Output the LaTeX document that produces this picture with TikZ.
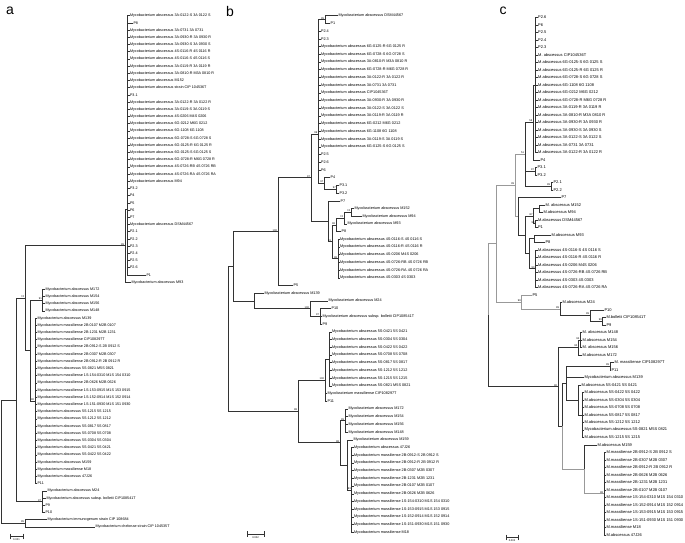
\documentclass[tikz,border=0pt]{standalone}
\usepackage{fontspec}
\setmainfont{Liberation Sans}
\newcommand{\Mab}{Mycobacterium abscessus}
\newcommand{\Mms}{Mycobacterium massiliense}
\tikzstyle{leaf} = [anchor=west, inner sep=0.3pt]
\tikzstyle{boot} = [anchor=south east, inner sep=0.2pt, font=\fontsize{2.6}{3}\selectfont]
\tikzstyle{branch} = [draw=black!80, line width=0.45pt]
\tikzstyle{greybranch} = [draw=black!40, line width=0.55pt]
\tikzstyle{panel} = [font=\fontsize{14}{14}\selectfont]
\tikzstyle{scalebar} = [draw=black!80, line width=0.4pt, |-|]

\begin{document}
\begin{tikzpicture}[x=1pt, y=-1pt]
\useasboundingbox (0,0) rectangle (685,543);

% ---------------- panel a ----------------
\node[panel] (pa) at (10,11) {a};
\begin{scope}[font=\fontsize{3.7}{4.2}\selectfont]
\foreach \i/\x/\t in {
 0/129.5/\Mab{} 3A-0122-S 3A 0122 S, 1/133/P8,
 2/129.5/\Mab{} 3A-0731 3A 0731, 3/129.5/\Mab{} 3A-0930-R 3A 0930 R,
 4/129.5/\Mab{} 3A-0930-S 3A 0930 S, 5/129.5/\Mab{} 4S-0116-R 4S 0116 R,
 6/129.5/\Mab{} 4S-0116-S 4S 0116 S, 7/129.5/\Mab{} 3A-0119-R 3A 0119 R,
 8/129.5/\Mab{} 3A-0810-R M3A 0810 R, 9/129.5/\Mab{} M152,
 10/129.5/\Mab{} strain CIP 104536T, 11/129.5/P3.1,
 12/129.5/\Mab{} 3A-0122-R 3A 0122 R, 13/129.5/\Mab{} 3A-0119-S 3A 0119 S,
 14/129.5/\Mab{} 4S-0206 M4S 0206, 15/129.5/\Mab{} 6G-0212 M6G 0212,
 16/129.5/\Mab{} 6G-1108 6G 1108, 17/129.5/\Mab{} 6G-0728-S 6G 0728 S,
 18/129.5/\Mab{} 6G-0125-R 6G 0125 R, 19/129.5/\Mab{} 6G-0125-S 6G 0125 S,
 20/129.5/\Mab{} 6G-0728-R M6G 0728 R, 21/129.5/\Mab{} 4S-0726-RB 4S 0726 RB,
 22/129.5/\Mab{} 4S-0726-RA 4S 0726 RA, 23/129.5/\Mab{} M94,
 24/129.5/P3.2, 25/129.5/P4, 26/129.5/P5, 27/129.5/P6, 28/129.5/P7,
 29/129.5/\Mab{} DSM44567, 30/129.5/P2.1, 31/129.5/P2.2, 32/129.5/P2.3,
 33/129.5/P2.4, 34/129.5/P2.5, 35/129.5/P2.6, 36/146/P1,
 37/131/\Mab{} M93,
 38/45/\Mab{} M172, 39/45/\Mab{} M154, 40/45/\Mab{} M156, 41/45/\Mab{} M148,
 42/37/\Mab{} M139, 43/37/\Mms{} 2B-0107 M2B 0107,
 44/37/\Mms{} 2B-1231 M2B 1231, 45/37/\Mms{} CIP108297T,
 46/37/\Mms{} 2B-0912-S 2B 0912 S, 47/37/\Mms{} 2B-0307 M2B 0307,
 48/37/\Mms{} 2B-0912-R 2B 0912 R, 49/37/\Mab{} 5S-0821 M5S 0821,
 50/37/\Mms{} 1S-154-0310 M1S 154 0310, 51/37/\Mms{} 2B-0626 M2B 0626,
 52/37/\Mms{} 1S-153-0915 M1S 153 0915, 53/37/\Mms{} 1S-152-0914 M1S 152 0914,
 54/37/\Mms{} 1S-151-0930 M1S 151 0930, 55/37/\Mab{} 5S-1215 5S 1215,
 56/37/\Mab{} 5S-1212 5S 1212, 57/37/\Mab{} 5S-0817 5S 0817,
 58/37/\Mab{} 5S-0708 5S 0708, 59/37/\Mab{} 5S-0304 5S 0304,
 60/37/\Mab{} 5S-0421 5S 0421, 61/37/\Mab{} 5S-0422 5S 0422,
 62/37/\Mab{} M159, 63/37/\Mms{} M18, 64/37/\Mab{} 47J26, 65/37/P11,
 66/47/\Mab{} M24, 67/46/\Mab{} subsp. bolletii CIP108541T,
 68/45/P9, 69/45/P10,
 70/47/Mycobacterium immunogenum strain CIP 108684,
 71/95/Mycobacterium chelonae strain CIP 104535T}
 \node[leaf] (a\i) at (\x,{15.7+7.2*\i}) {\t};
\end{scope}

\coordinate (aTop) at (127.7,209);
\coordinate (aAbs) at (125,245.5);
\coordinate (aM172) at (42.7,300.1);
\coordinate (aMas2) at (35,400.9);
\coordinate (aMas) at (30,350.5);
\coordinate (aIn) at (25,298);
\coordinate (aBol) at (42,501.7);
\coordinate (aIng) at (16.7,399.8);
\coordinate (aOut) at (25,523.3);
\coordinate (aRoot) at (1,461.5);

\draw[branch] (aRoot) |- (aIng);
\draw[branch] (aRoot) |- (aOut);
\draw[branch] (aIng) |- (aIn);
\draw[branch] (aIng) |- (aBol);
\draw[branch] (aIn) |- (aAbs);
\draw[branch] (aIn) |- (aMas);
\draw[branch] (aAbs) |- (aTop);
\draw[branch] (aAbs) |- (a37.west);
\foreach \i in {0,...,36} \draw[branch] (aTop) |- (a\i.west);
\draw[branch] (aMas) |- (aM172);
\draw[branch] (aMas) |- (aMas2);
\foreach \i in {38,...,41} \draw[branch] (aM172) |- (a\i.west);
\foreach \i in {42,...,65} \draw[branch] (aMas2) |- (a\i.west);
\foreach \i in {66,...,69} \draw[branch] (aBol) |- (a\i.west);
\draw[branch] (aOut) |- (a70.west);
\draw[branch] (aOut) |- (a71.west);

\node[boot] (ba1) at ([xshift=-0.6]aAbs) {99};
\node[boot] (ba2) at ([xshift=-0.6]aIn) {74};
\node[boot] (ba3) at ([xshift=-0.6]aM172) {91};
\node[boot] (ba4) at ([xshift=-0.6]aMas2) {90};
\node[boot] (ba5) at ([xshift=-0.6]aBol) {97};
\node[boot] (ba6) at ([xshift=-0.6]aOut) {95};

\coordinate (sbaL) at (10,536.5);
\coordinate (sbaR) at (23,536.5);
\draw[scalebar] (sbaL) -- (sbaR);
\node[font=\fontsize{2.6}{3}\selectfont, inner sep=0.3pt] (sba) at (16.5,540) {0.001};

% ---------------- panel b ----------------
\node[panel] (pb) at (230,11) {b};
\begin{scope}[font=\fontsize{3.8}{4.3}\selectfont]
\foreach \i/\x/\t in {
 0/338/\Mab{} DSM44567, 1/330/P1, 2/320.5/P2.4, 3/320.5/P2.3,
 4/320.5/\Mab{} 6G-0125-R 6G 0125 R, 5/320.5/\Mab{} 6G-0728-S 6G 0728 S,
 6/320.5/\Mab{} 3A-0810-R M3A 0810 R, 7/320.5/\Mab{} 6G-0728-R M6G 0728 R,
 8/320.5/\Mab{} 3A-0122-R 3A 0122 R, 9/320.5/\Mab{} 3A-0731 3A 0731,
 10/320.5/\Mab{} CIP104536T, 11/320.5/\Mab{} 3A-0930-R 3A 0930 R,
 12/320.5/\Mab{} 3A-0122-S 3A 0122 S, 13/320.5/\Mab{} 3A-0119-R 3A 0119 R,
 14/320.5/\Mab{} 6G-0212 M6G 0212, 15/320.5/\Mab{} 6G-1108 6G 1108,
 16/320.5/\Mab{} 3A-0119-S 3A 0119 S, 17/320.5/\Mab{} 6G-0125-S 6G 0125 S,
 18/320.5/P2.5, 19/320.5/P2.6, 20/320.5/P6, 21/330/P4,
 22/339/P3.1, 23/339/P3.2, 24/340/P7,
 25/354/\Mab{} M152, 26/362/\Mab{} M94, 27/347/\Mab{} M93, 28/341/P8,
 29/339.5/\Mab{} 4S-0116-S 4S 0116 S, 30/339.5/\Mab{} 4S-0116-R 4S 0116 R,
 31/339.5/\Mab{} 4S-0206 M4S 0206, 32/339.5/\Mab{} 4S-0726-RB 4S 0726 RB,
 33/339.5/\Mab{} 4S-0726-RA 4S 0726 RA, 34/339.5/\Mab{} 4S-0303 4S 0303,
 35/293/P5, 36/264/\Mab{} M139, 37/328/\Mab{} M24, 38/331/P10,
 39/322/\Mab{} subsp. bolletii CIP108541T, 40/322/P9,
 41/331.5/\Mab{} 5S-0421 5S 0421, 42/331.5/\Mab{} 5S-0304 5S 0304,
 43/331.5/\Mab{} 5S-0422 5S 0422, 44/331.5/\Mab{} 5S-0708 5S 0708,
 45/331.5/\Mab{} 5S-0817 5S 0817, 46/331.5/\Mab{} 5S-1212 5S 1212,
 47/331.5/\Mab{} 5S-1215 5S 1215, 48/331.5/\Mab{} 5S-0821 M5S 0821,
 49/327/\Mms{} CIP108297T, 50/327/P11,
 51/348/\Mab{} M172, 52/348/\Mab{} M154, 53/348/\Mab{} M156, 54/348/\Mab{} M148,
 55/353/\Mab{} M159, 56/353.5/\Mab{} 47J26,
 57/353.5/\Mms{} 2B-0912-S 2B 0912 S, 58/353.5/\Mms{} 2B-0912-R 2B 0912 R,
 59/353.5/\Mms{} 2B-0307 M2B 0307, 60/353.5/\Mms{} 2B-1231 M2B 1231,
 61/353.5/\Mms{} 2B-0107 M2B 0107, 62/353.5/\Mms{} 2B-0626 M2B 0626,
 63/353.5/\Mms{} 1S-154-0310 M1S 154 0310, 64/353.5/\Mms{} 1S-153-0915 M1S 153 0915,
 65/353.5/\Mms{} 1S-152-0914 M1S 152 0914, 66/353.5/\Mms{} 1S-151-0930 M1S 151 0930,
 67/353.5/\Mms{} M18}
 \node[leaf] (b\i) at (\x,{15.7+7.71*\i}) {\t};
\end{scope}

\coordinate (bDSM) at (325,19.6);
\coordinate (bP3) at (336.7,189.2);
\coordinate (bP4) at (324.3,183.4);
\coordinate (bTop) at (318.3,134);
\coordinate (nSeventyA) at (351,212.3);
\coordinate (nSeventyB) at (344,218.1);
\coordinate (nNinetySix) at (336,224.9);
\coordinate (nNinetyEight) at (338,258.6);
\coordinate (nNinetyOne) at (332,241.7);
\coordinate (bC) at (328,221.2);
\coordinate (bB2) at (311,177.6);
\coordinate (bB3) at (278,231.6);
\coordinate (bBol) at (320,316.4);
\coordinate (bM24) at (310,308.7);
\coordinate (bM139) at (254,301);
\coordinate (bB1) at (233,266.3);
\coordinate (b5S) at (329.5,358.8);
\coordinate (b100) at (325,380);
\coordinate (bM172) at (345,420.5);
\coordinate (bMas2) at (351.7,489.9);
\coordinate (bM159) at (347,464.9);
\coordinate (bM) at (340,442.7);
\coordinate (bLow) at (298,411.4);
\coordinate (bRoot) at (228,338.9);

\draw[branch] (bRoot) |- (bB1);
\draw[branch] (bRoot) |- (bLow);
\draw[branch] (bB1) |- (bB3);
\draw[branch] (bB1) |- (bM139);
\draw[branch] (bB3) |- (bB2);
\draw[branch] (bB3) |- (b35.west);
\draw[branch] (bB2) |- (bTop);
\draw[branch] (bB2) |- (bC);
\draw[branch] (bTop) |- (bDSM);
\draw[branch] (bTop) |- (bP4);
\foreach \i in {2,...,20} \draw[branch] (bTop) |- (b\i.west);
\draw[branch] (bDSM) |- (b0.west);
\draw[branch] (bDSM) |- (b1.west);
\draw[branch] (bP4) |- (b21.west);
\draw[branch] (bP4) |- (bP3);
\draw[branch] (bP3) |- (b22.west);
\draw[branch] (bP3) |- (b23.west);
\draw[branch] (bC) |- (b24.west);
\draw[branch] (bC) |- (nNinetyOne);
\draw[branch] (nNinetyOne) |- (nNinetySix);
\draw[branch] (nNinetyOne) |- (nNinetyEight);
\draw[branch] (nNinetySix) |- (nSeventyB);
\draw[branch] (nNinetySix) |- (b28.west);
\draw[branch] (nSeventyB) |- (nSeventyA);
\draw[branch] (nSeventyB) |- (b27.west);
\draw[branch] (nSeventyA) |- (b25.west);
\draw[branch] (nSeventyA) |- (b26.west);
\foreach \i in {29,...,34} \draw[branch] (nNinetyEight) |- (b\i.west);
\draw[branch] (bM139) |- (b36.west);
\draw[branch] (bM139) |- (bM24);
\draw[branch] (bM24) |- (b37.west);
\draw[branch] (bM24) |- (bBol);
\foreach \i in {38,39,40} \draw[branch] (bBol) |- (b\i.west);
\draw[branch] (bLow) |- (b100);
\draw[branch] (bLow) |- (bM);
\draw[branch] (b100) |- (b5S);
\draw[branch] (b100) |- (b49.west);
\draw[branch] (b100) |- (b50.west);
\foreach \i in {41,...,48} \draw[branch] (b5S) |- (b\i.west);
\draw[branch] (bM) |- (bM172);
\draw[branch] (bM) |- (bM159);
\foreach \i in {51,...,54} \draw[branch] (bM172) |- (b\i.west);
\draw[branch] (bM159) |- (b55.west);
\draw[branch] (bM159) |- (bMas2);
\foreach \i in {56,...,67} \draw[branch] (bMas2) |- (b\i.west);

\node[boot] (bb1) at ([xshift=-0.6]bDSM) {95};
\node[boot] (bb2) at ([xshift=-0.6]bTop) {99};
\node[boot] (bb3) at ([xshift=-0.6]bB2) {97};
\node[boot] (bb4) at ([xshift=-0.6]bP4) {97};
\node[boot] (bb5) at ([xshift=-0.6]bP3) {97};
\node[boot] (bb6) at ([xshift=-0.6]nSeventyA) {74};
\node[boot] (bb7) at ([xshift=-0.6]nSeventyB) {74};
\node[boot] (bb8) at ([xshift=-0.6]nNinetySix) {96};
\node[boot] (bb9) at ([xshift=-0.6]nNinetyOne) {91};
\node[boot] (bb10) at ([xshift=-0.6]nNinetyEight) {98};
\node[boot] (bb11) at ([xshift=-0.6]bB3) {100};
\node[boot] (bb12) at ([xshift=-0.6]bM24) {100};
\node[boot] (bb13) at ([xshift=-0.6]bBol) {97};
\node[boot] (bb14) at ([xshift=-0.6]b100) {100};
\node[boot] (bb15) at ([xshift=-0.6]bLow) {98};
\node[boot] (bb16) at ([xshift=-0.6]bM) {98};
\node[boot] (bb17) at ([xshift=-0.6]bM172) {99};
\node[boot] (bb18) at ([xshift=-0.6]bMas2) {93};

\coordinate (sbbL) at (247,534);
\coordinate (sbbR) at (264,534);
\draw[scalebar] (sbbL) -- (sbbR);
\node[font=\fontsize{2.6}{3}\selectfont, inner sep=0.3pt] (sbb) at (255.5,537.8) {0.002};

% ---------------- panel c ----------------
\node[panel] (pc) at (503,11) {c};
\begin{scope}[font=\fontsize{4.0}{4.5}\selectfont]
\foreach \i/\x/\t in {
 0/537.7/P2.6, 1/537.7/P6, 2/537.7/P2.5, 3/537.7/P2.4, 4/537.7/P2.3,
 5/537.7/M. abscessus CIP104536T,
 6/537.7/M.abscessus 6G-0125-S 6G 0125 S, 7/537.7/M.abscessus 6G-0125-R 6G 0125 R,
 8/537.7/M.abscessus 6G-0728-S 6G 0728 S, 9/537.7/M.abscessus 6G-1108 6G 1108,
 10/537.7/M.abscessus 6G-0212 M6G 0212, 11/537.7/M.abscessus 6G-0728-R M6G 0728 R,
 12/537.7/M.abscessus 3A-0119-R 3A 0119 R, 13/537.7/M.abscessus 3A-0810-R M3A 0810 R,
 14/537.7/M.abscessus 3A-0930-R 3A 0930 R, 15/537.7/M.abscessus 3A-0930-S 3A 0930 S,
 16/537.7/M.abscessus 3A-0122-S 3A 0122 S, 17/537.7/M.abscessus 3A-0731 3A 0731,
 18/537.7/M.abscessus 3A-0122-R 3A 0122 R, 19/540/P4,
 20/537/P3.1, 21/537/P3.2, 22/553/P2.1, 23/553/P2.2, 24/561/P7,
 25/545/M. abscessus M152, 26/543/M.abscessus M94,
 27/537.5/M.abscessus DSM44567, 28/537.5/P1,
 29/551/M.abscessus M93, 30/545/P8,
 31/537.5/M.abscessus 4S-0116-S 4S 0116 S, 32/537.5/M.abscessus 4S-0116-R 4S 0116 R,
 33/537.5/M.abscessus 4S-0206 M4S 0206, 34/537.5/M.abscessus 4S-0726-RB 4S 0726 RB,
 35/537.5/M.abscessus 4S-0303 4S 0303, 36/537.5/M.abscessus 4S-0726-RA 4S 0726 RA,
 37/532/P5, 38/562/M.abscessus M24, 39/604/P10,
 40/606/M.bolletii CIP108541T, 41/606/P9,
 42/582/M. abscessus M148, 43/582/M.abscessus M154,
 44/582/M. abscessus M156, 45/582/M.abscessus M172,
 46/614/M. massiliense CIP108297T, 47/611/P11,
 48/584/Mycobacterium abscessus M139,
 49/581/M.abscessus 5S-0421 5S 0421, 50/584/M.abscessus 5S-0422 5S 0422,
 51/584/M.abscessus 5S-0304 5S 0304, 52/584/M.abscessus 5S-0708 5S 0708,
 53/584/M.abscessus 5S-0817 5S 0817, 54/584/M.abscessus 5S-1212 5S 1212,
 55/584/Mycobacterium abscessus 5S-0821 M5S 0821, 56/584/M.abscessus 5S-1215 5S 1215,
 57/597/M.abscessus M159,
 58/606/M.massiliense 2B-0912-S 2B 0912 S, 59/606/M.massiliense 2B-0307 M2B 0307,
 60/606/M.massiliense 2B-0912-R 2B 0912 R, 61/606/M.massiliense 2B-0626 M2B 0626,
 62/606/M.massiliense 2B-1231 M2B 1231, 63/606/M.massiliense 2B-0107 M2B 0107,
 64/606/M.massiliense 1S-154-0310 M1S 154 0310, 65/606/M.massiliense 1S-152-0914 M1S 152 0914,
 66/606/M.massiliense 1S-153-0915 M1S 153 0915, 67/606/M.massiliense 1S-151-0930 M1S 151 0930,
 68/606/M.massiliense M18, 69/606/M.abscessus 47J26}
 \node[leaf] (c\i) at (\x,{17.3+7.5*\i}) {\t};
\end{scope}

\coordinate (cTop) at (535.7,84.8);
\coordinate (cFiftySix) at (533.3,122.3);
\coordinate (cP3) at (535,171);
\coordinate (cP2) at (551,186);
\coordinate (cFiftyOne) at (525,154.2);
\coordinate (cM152) at (539,208.5);
\coordinate (cDSM) at (535.5,223.5);
\coordinate (cEightySeven) at (533.5,216);
\coordinate (cM93) at (534,238.5);
\coordinate (c4S) at (535.5,268.5);
\coordinate (cE) at (529.5,253.5);
\coordinate (cF) at (525.5,234.8);
\coordinate (cP7) at (518.3,216);
\coordinate (cA) at (515,185.1);
\coordinate (cP9) at (602.7,321);
\coordinate (cP10) at (590,315.4);
\coordinate (cM24) at (560,308.9);
\coordinate (cBol) at (521.7,301.8);
\coordinate (cG) at (496.7,243.5);
\coordinate (cM148a) at (580.3,339.8);
\coordinate (cM148) at (578.3,347.3);
\coordinate (cCIP) at (610,366);
\coordinate (c5Sa) at (582,414.8);
\coordinate (c5S) at (578,399.8);
\coordinate (cMm) at (566,382.9);
\coordinate (cMas) at (604,493.5);
\coordinate (cM159) at (584,469.2);
\coordinate (cLowB) at (562,426);
\coordinate (cMasBig) at (558,386.7);
\coordinate (cR) at (488.3,315.1);

\draw[greybranch] (cR) |- (cG);
\draw[branch] (cR) |- (cMasBig);
\draw[greybranch] (cG) |- (cA);
\draw[greybranch] (cG) |- (cBol);
\draw[greybranch] (cA) |- (cFiftyOne);
\draw[greybranch] (cA) |- (cP7);
\draw[branch] (cFiftyOne) |- (cFiftySix);
\draw[branch] (cFiftyOne) |- (cP3);
\draw[branch] (cFiftyOne) |- (cP2);
\draw[branch] (cFiftySix) |- (cTop);
\draw[branch] (cFiftySix) |- (c19.west);
\foreach \i in {0,...,18} \draw[branch] (cTop) |- (c\i.west);
\draw[branch] (cP3) |- (c20.west);
\draw[branch] (cP3) |- (c21.west);
\draw[branch] (cP2) |- (c22.west);
\draw[branch] (cP2) |- (c23.west);
\draw[branch] (cP7) |- (c24.west);
\draw[branch] (cP7) |- (cF);
\draw[branch] (cF) |- (cEightySeven);
\draw[branch] (cF) |- (cE);
\draw[branch] (cEightySeven) |- (cM152);
\draw[branch] (cEightySeven) |- (cDSM);
\draw[branch] (cM152) |- (c25.west);
\draw[branch] (cM152) |- (c26.west);
\draw[branch] (cDSM) |- (c27.west);
\draw[branch] (cDSM) |- (c28.west);
\draw[branch] (cE) |- (cM93);
\draw[branch] (cE) |- (c4S);
\draw[branch] (cM93) |- (c29.west);
\draw[branch] (cM93) |- (c30.west);
\foreach \i in {31,...,36} \draw[branch] (c4S) |- (c\i.west);
\draw[greybranch] (cBol) |- (c37.west);
\draw[greybranch] (cBol) |- (cM24);
\draw[branch] (cM24) |- (c38.west);
\draw[branch] (cM24) |- (cP10);
\draw[branch] (cP10) |- (c39.west);
\draw[branch] (cP10) |- (cP9);
\draw[branch] (cP9) |- (c40.west);
\draw[branch] (cP9) |- (c41.west);
\draw[branch] (cMasBig) |- (cM148);
\draw[branch] (cMasBig) |- (cLowB);
\draw[branch] (cM148) |- (cM148a);
\draw[branch] (cM148) |- (c45.west);
\foreach \i in {42,43,44} \draw[branch] (cM148a) |- (c\i.west);
\draw[branch] (cLowB) |- (cMm);
\draw[greybranch] (cLowB) |- (cM159);
\draw[branch] (cMm) |- (cCIP);
\draw[branch] (cMm) |- (c48.west);
\draw[branch] (cMm) |- (c5S);
\draw[branch] (cCIP) |- (c46.west);
\draw[branch] (cCIP) |- (c47.west);
\draw[branch] (c5S) |- (c49.west);
\draw[branch] (c5S) |- (c5Sa);
\foreach \i in {50,...,56} \draw[branch] (c5Sa) |- (c\i.west);
\draw[branch] (cM159) |- (c57.west);
\draw[greybranch] (cM159) |- (cMas);
\foreach \i in {58,...,69} \draw[branch] (cMas) |- (c\i.west);

\node[boot] (bc1) at ([xshift=-0.6]cFiftySix) {56};
\node[boot] (bc2) at ([xshift=-0.6]cFiftyOne) {51};
\node[boot] (bc3) at ([xshift=-0.6]cA) {39};
\node[boot] (bc4) at ([xshift=-0.6]cP3) {97};
\node[boot] (bc5) at ([xshift=-0.6]cP2) {99};
\node[boot] (bc6) at ([xshift=-0.6]cEightySeven) {87};
\node[boot] (bc7) at ([xshift=-0.6]cDSM) {99};
\node[boot] (bc8) at ([xshift=-0.6]c4S) {90};
\node[boot] (bc9) at ([xshift=-0.6]cBol) {99};
\node[boot] (bc10) at ([xshift=-0.6]cM24) {99};
\node[boot] (bc11) at ([xshift=-0.6]cP10) {99};
\node[boot] (bc12) at ([xshift=-0.6]cP9) {99};
\node[boot] (bc13) at ([xshift=-0.6]cM148a) {94};
\node[boot] (bc14) at ([xshift=-0.6]cM148) {90};
\node[boot] (bc15) at ([xshift=-0.6]cCIP) {99};
\node[boot] (bc16) at ([xshift=-0.6]cMasBig) {90};
\node[boot] (bc17) at ([xshift=-0.6]cMas) {98};

\coordinate (sbcL) at (505.7,537.5);
\coordinate (sbcR) at (518.3,537.5);
\draw[scalebar] (sbcL) -- (sbcR);
\node[font=\fontsize{2.6}{3}\selectfont, inner sep=0.3pt] (sbc) at (512,541) {0.002};
\end{tikzpicture}
\end{document}
